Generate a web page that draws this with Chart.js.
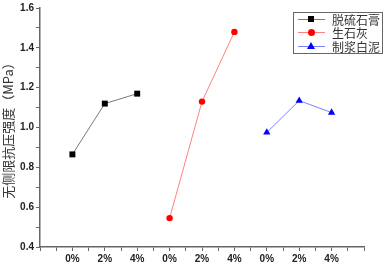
<!DOCTYPE html>
<html>
<head>
<meta charset="utf-8">
<script src="https://cdn.jsdelivr.net/npm/chart.js@4"></script>
<style>
  body { margin: 0; background: #fff; }
  #wrap { position: relative; width: 387px; height: 268px; }
  #legend {
    position: absolute; left: 293px; top: 12px; width: 88px; height: 40px;
    border: 1px solid #666; background: #fff;
    font-family: "Noto Sans CJK SC", sans-serif; font-size: 12px; color: #333;
  }
  .row { position: relative; height: 13.3px; line-height: 13.3px; }
  .ln { position: absolute; left: 4px; top: 6px; width: 27px; height: 1px; }
  .mk { position: absolute; }
  .txt { position: absolute; left: 38px; top: 0; white-space: nowrap; }
</style>
</head>
<body>
<div id="wrap">
  <canvas id="c" width="387" height="268"></canvas>
  <div id="legend"></div>
</div>
<script>
/* datos */
const CATEGORIAS = ["0%", "2%", "4%", "0%", "2%", "4%", "0%", "2%", "4%"];
const SERIES = ["脱硫石膏", "生石灰", "制浆白泥"];
const YESO = [0.865, 1.12, 1.17];
const CAL = [0.545, 1.13, 1.48];
const LODO = [0.975, 1.135, 1.075];
const Y_TICKS = [0.4, 0.6, 0.8, 1.0, 1.2, 1.4, 1.6];

const POS_YESO = [1, 2, 3];
const POS_CAL = [4, 5, 6];
const POS_LODO = [7, 8, 9];

function puntos(pos, vals) {
    return pos.map((x, i) => ({ x, y: vals[i] }));
}

const ESTILOS = [
    { line: "#7a7a7a", fill: "#000", shape: "rect", r: 4.2 },
    { line: "#ff8080", fill: "#ff0000", shape: "circle", r: 3.2 },
    { line: "#8080ff", fill: "#0000ff", shape: "triangle", r: 4.2 }
];

const datasets = [
    puntos(POS_YESO, YESO),
    puntos(POS_CAL, CAL),
    puntos(POS_LODO, LODO)
].map((data, i) => ({
    label: SERIES[i],
    data,
    borderColor: ESTILOS[i].line,
    borderWidth: 1,
    backgroundColor: ESTILOS[i].fill,
    pointBackgroundColor: ESTILOS[i].fill,
    pointBorderColor: ESTILOS[i].fill,
    pointBorderWidth: 0,
    pointStyle: ESTILOS[i].shape,
    pointRadius: ESTILOS[i].r,
    tension: 0
}));

const fuenteTick = { family: "'Liberation Sans', Arial, sans-serif", size: 10, weight: "bold" };

new Chart(document.getElementById("c"), {
    type: "line",
    data: { datasets },
    options: {
        responsive: false,
        animation: false,
        layout: { padding: { top: 6, right: 23, left: 0, bottom: 0 } },
        plugins: { legend: { display: false }, tooltip: { enabled: false } },
        scales: {
            x: {
                type: "linear",
                min: 0, max: 10,
                afterFit: s => { s.height = 21; },
                ticks: {
                    stepSize: 0.5,
                    autoSkip: false,
                    maxRotation: 0,
                    color: "#222",
                    font: fuenteTick,
                    padding: 2,
                    callback: v => (Number.isInteger(v) && v >= 1 && v <= 9) ? CATEGORIAS[v - 1] : ""
                },
                grid: { drawOnChartArea: false, tickLength: 4, color: "#666" },
                border: { color: "#666", width: 1.5 }
            },
            y: {
                min: 0.4, max: 1.6,
                afterFit: s => { s.width = 40; },
                ticks: {
                    stepSize: 0.1,
                    autoSkip: false,
                    color: "#222",
                    font: fuenteTick,
                    padding: 2,
                    callback: v => {
                        const t = Y_TICKS.find(k => Math.abs(k - v) < 1e-6);
                        return t !== undefined ? t.toFixed(1) : "";
                    }
                },
                grid: { drawOnChartArea: false, tickLength: 4, color: "#666" },
                border: { color: "#666", width: 1.5 },
                title: {
                    display: true,
                    text: "无侧限抗压强度（MPa）",
                    color: "#333",
                    font: { family: "'Noto Sans CJK SC', sans-serif", size: 13 },
                    padding: { top: 0, bottom: 0 }
                }
            }
        }
    }
});

/* leyenda */
const leg = document.getElementById("legend");
SERIES.forEach((nombre, i) => {
    const e = ESTILOS[i];
    const row = document.createElement("div");
    row.className = "row";
    let mk;
    if (e.shape === "rect") {
        mk = `<div class="mk" style="left:14px;top:3px;width:6px;height:6px;background:${e.fill}"></div>`;
    } else if (e.shape === "circle") {
        mk = `<div class="mk" style="left:14px;top:3px;width:7px;height:7px;border-radius:50%;background:${e.fill}"></div>`;
    } else {
        mk = `<div class="mk" style="left:13px;top:2px;width:0;height:0;border-left:4px solid transparent;border-right:4px solid transparent;border-bottom:7px solid ${e.fill}"></div>`;
    }
    row.innerHTML = `<div class="ln" style="background:${e.line}"></div>${mk}<span class="txt">${nombre}</span>`;
    leg.appendChild(row);
});
</script>
</body>
</html>
